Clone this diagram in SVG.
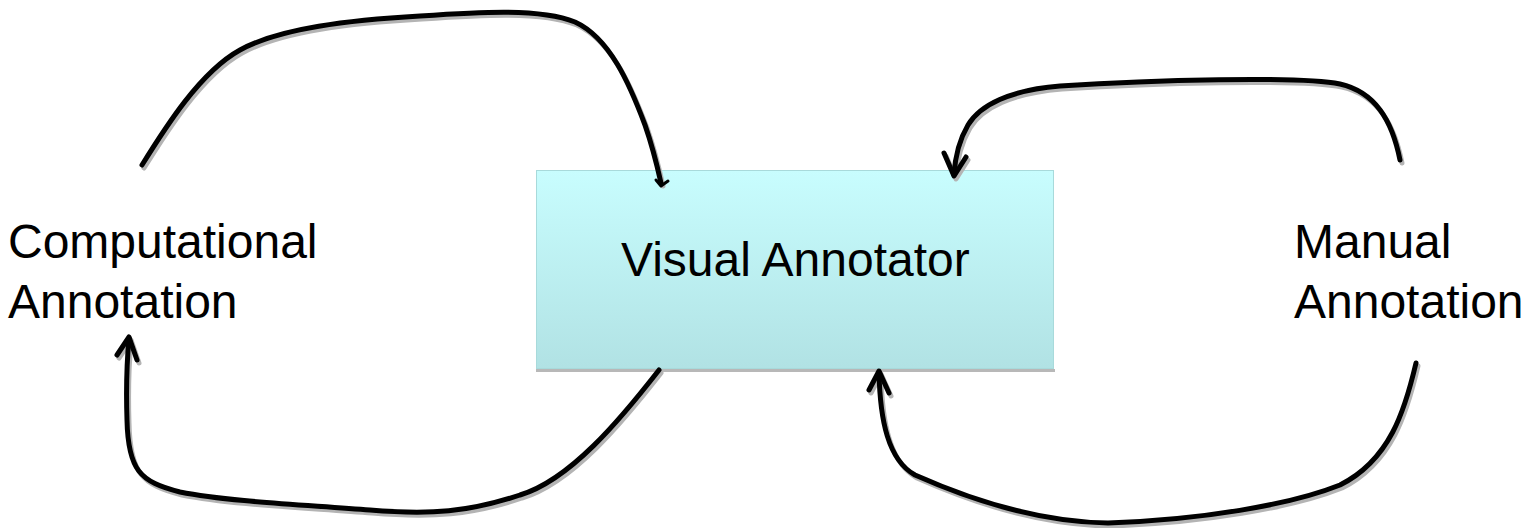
<svg xmlns="http://www.w3.org/2000/svg" width="1528" height="528" viewBox="0 0 1528 528">
<style>
.lbl{font-family:"Liberation Sans",Arial,sans-serif;font-size:48px;fill:#000}
.ln{fill:none;stroke:#000;stroke-width:5;stroke-linecap:round;stroke-linejoin:round}
.sh{fill:none;stroke:#b4b4b4;stroke-width:5;stroke-linecap:round;stroke-linejoin:round}
</style>
<defs>
<linearGradient id="g" x1="0" y1="0" x2="0" y2="1">
<stop offset="0" stop-color="#c8fdfe"/>
<stop offset="1" stop-color="#b1e2e4"/>
</linearGradient>
</defs>
<rect width="1528" height="528" fill="#fff"/>
<g id="visual-annotator">
<rect x="536" y="369" width="519" height="3" fill="#b8b8b8"/>
<rect x="536.5" y="170.5" width="517" height="198" fill="url(#g)" stroke="#a8dadb" stroke-width="1"/>
<text class="lbl" x="621" y="276">Visual Annotator</text>
</g>
<g id="computational-annotation">
<text class="lbl" x="8" y="258">Computational</text>
<text class="lbl" x="8" y="318">Annotation</text>
</g>
<g id="manual-annotation">
<text class="lbl" x="1294" y="258">Manual</text>
<text class="lbl" x="1294" y="318">Annotation</text>
</g>
<g id="connectors">
<g transform="translate(2,3)">
<path class="sh" d="M142,165 C165,128 200,72 240,50 C280,28 350,20 420,16 C480,12 540,8 575,22 C610,38 630,85 645,125 C652,145 657,165 661,183"/>
<path class="sh" d="M1400,160 C1392,120 1375,92 1340,84 C1300,76 1150,80 1060,86 C1010,90 980,105 968,125 C958,142 955,158 954,175"/>
<path class="sh" d="M659,370 C620,420 570,480 520,495 C470,512 430,515 370,510 C310,505 230,502 180,492 C140,482 128,470 127,420 C126,390 127,360 129,338"/>
<path class="sh" d="M1416,363 C1405,410 1390,460 1340,485 C1290,505 1200,520 1108,523 C1030,522 960,495 915,475 C888,460 880,420 879,372"/>
<polyline class="sh" points="117,355 129,337 137,360"/>
<polyline class="sh" points="869,390 879,371 889,393"/>
<polyline class="sh" points="944,153 954,176 966,157"/>
</g>
<path class="ln" d="M142,165 C165,128 200,72 240,50 C280,28 350,20 420,16 C480,12 540,8 575,22 C610,38 630,85 645,125 C652,145 657,165 661,183"/>
<polyline class="ln" style="stroke-width:3" points="656,180 661,186 668,181"/>
<path class="ln" d="M1400,160 C1392,120 1375,92 1340,84 C1300,76 1150,80 1060,86 C1010,90 980,105 968,125 C958,142 955,158 954,175"/>
<polyline class="ln" points="944,153 954,176 966,157"/>
<path class="ln" d="M659,370 C620,420 570,480 520,495 C470,512 430,515 370,510 C310,505 230,502 180,492 C140,482 128,470 127,420 C126,390 127,360 129,338"/>
<polyline class="ln" points="117,355 129,337 137,360"/>
<path class="ln" d="M1416,363 C1405,410 1390,460 1340,485 C1290,505 1200,520 1108,523 C1030,522 960,495 915,475 C888,460 880,420 879,372"/>
<polyline class="ln" points="869,390 879,371 889,393"/>
</g>
</svg>
